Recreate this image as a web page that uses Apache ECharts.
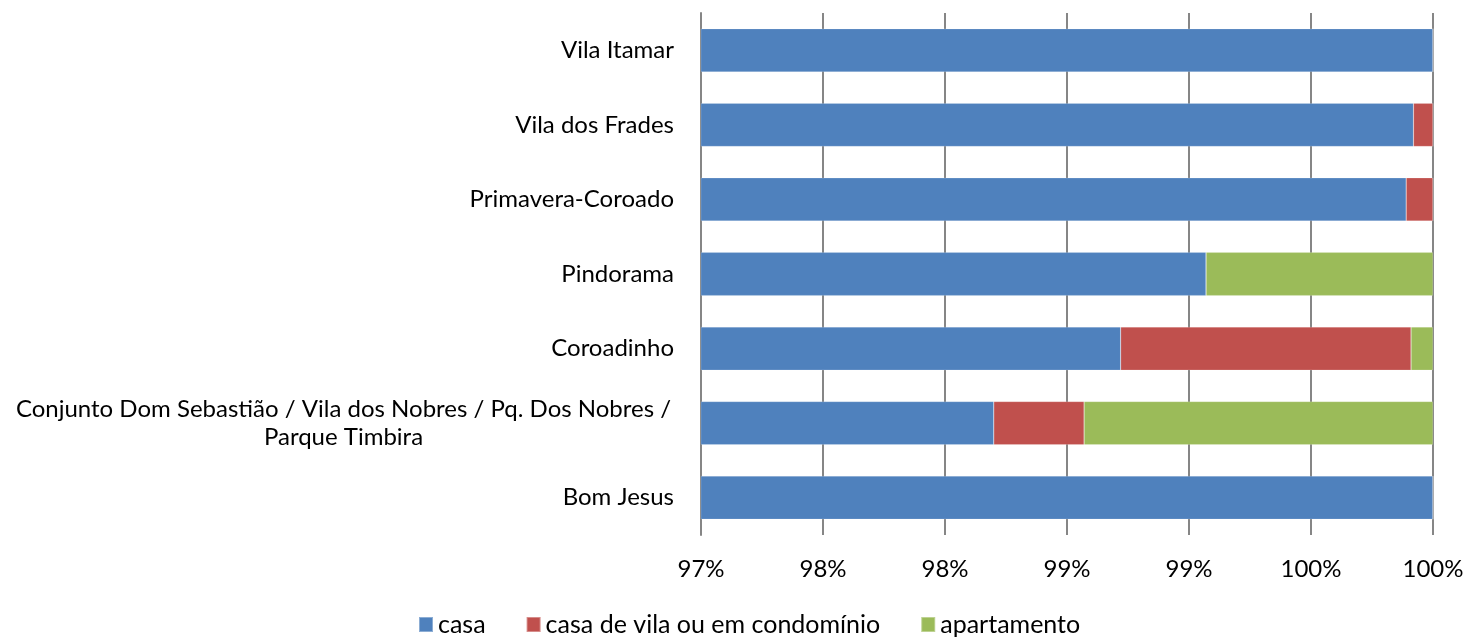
<!DOCTYPE html>
<html>
<head>
<meta charset="utf-8">
<script src="https://cdn.jsdelivr.net/npm/echarts@6/dist/echarts.min.js"></script>
<style>
  html, body { margin: 0; padding: 0; background: #fff; }
  #chart { width: 1468px; height: 638px; }
</style>
</head>
<body>
<div id="chart"></div>
<script>
// Neighbourhoods, listed bottom to top as they appear on the category axis
const categories = [
  'Bom Jesus',
  'Conjunto Dom Sebastião / Vila dos Nobres / Pq. Dos Nobres / Parque Timbira',
  'Coroadinho',
  'Pindorama',
  'Primavera-Coroado',
  'Vila dos Frades',
  'Vila Itamar'
];

// Share of dwellings by type (%)
const casa        = [100, 98.20, 98.72, 99.07, 99.89, 99.92, 100];
const casaVila    = [0,   0.37,  1.19,  0,     0.11,  0.08,  0];
const apartamento = [0,   1.43,  0.09,  0.93,  0,     0,     0];

const seriesNames = ['casa', 'casa de vila ou em condomínio', 'apartamento'];
const tickLabels = ['97%', '98%', '98%', '99%', '99%', '100%', '100%'];

const colors = ['#4F81BD', '#C0504D', '#9BBB59'];
const font = 'Lato, "Open Sans", sans-serif';
const fontSize = 24;

const chart = echarts.init(document.getElementById('chart'));

function mkSeries(name, data, color) {
  return {
    name: name,
    type: 'bar',
    stack: 'total',
    data: data,
    barCategoryGap: '42%',
    clip: true,
    itemStyle: { color: color, borderColor: 'rgba(255,255,255,0.35)', borderWidth: 0.5 },
    emphasis: { disabled: true }
  };
}

chart.setOption({
  animation: false,
  color: colors,
  grid: { left: 701, right: 35, top: 13, bottom: 103, containLabel: false },
  legend: {
    top: 612,
    left: 418,
    padding: 0,
    itemWidth: 14,
    itemHeight: 15,
    itemGap: 40,
    icon: 'rect',
    textStyle: { fontFamily: font, fontSize: 25, color: '#000' },
    data: seriesNames
  },
  xAxis: {
    type: 'value',
    min: 97,
    max: 100,
    interval: 0.5,
    axisLine: { show: false },
    axisTick: { show: false },
    splitLine: { show: true, lineStyle: { color: '#868686', width: 2 } },
    axisLabel: {
      margin: 22,
      fontFamily: font,
      fontSize: fontSize,
      color: '#000',
      formatter: function (v, i) { return tickLabels[i]; }
    }
  },
  yAxis: {
    type: 'category',
    data: categories,
    axisLine: { show: true, lineStyle: { color: '#868686', width: 2 } },
    axisTick: { show: false },
    axisLabel: {
      margin: 27,
      fontFamily: font,
      fontSize: fontSize,
      color: '#000',
      lineHeight: 28,
      formatter: function (v) {
        if (v.indexOf('Conjunto') === 0) {
          return '{w|Conjunto Dom Sebastião / Vila dos Nobres / Pq. Dos Nobres /}\n{w|Parque Timbira}';
        }
        return v;
      },
      rich: {
        w: { width: 661, align: 'center', fontFamily: font, fontSize: fontSize, color: '#000', lineHeight: 28 }
      }
    }
  },
  series: [
    mkSeries(seriesNames[0], casa, colors[0]),
    mkSeries(seriesNames[1], casaVila, colors[1]),
    mkSeries(seriesNames[2], apartamento, colors[2])
  ]
});
</script>
</body>
</html>
